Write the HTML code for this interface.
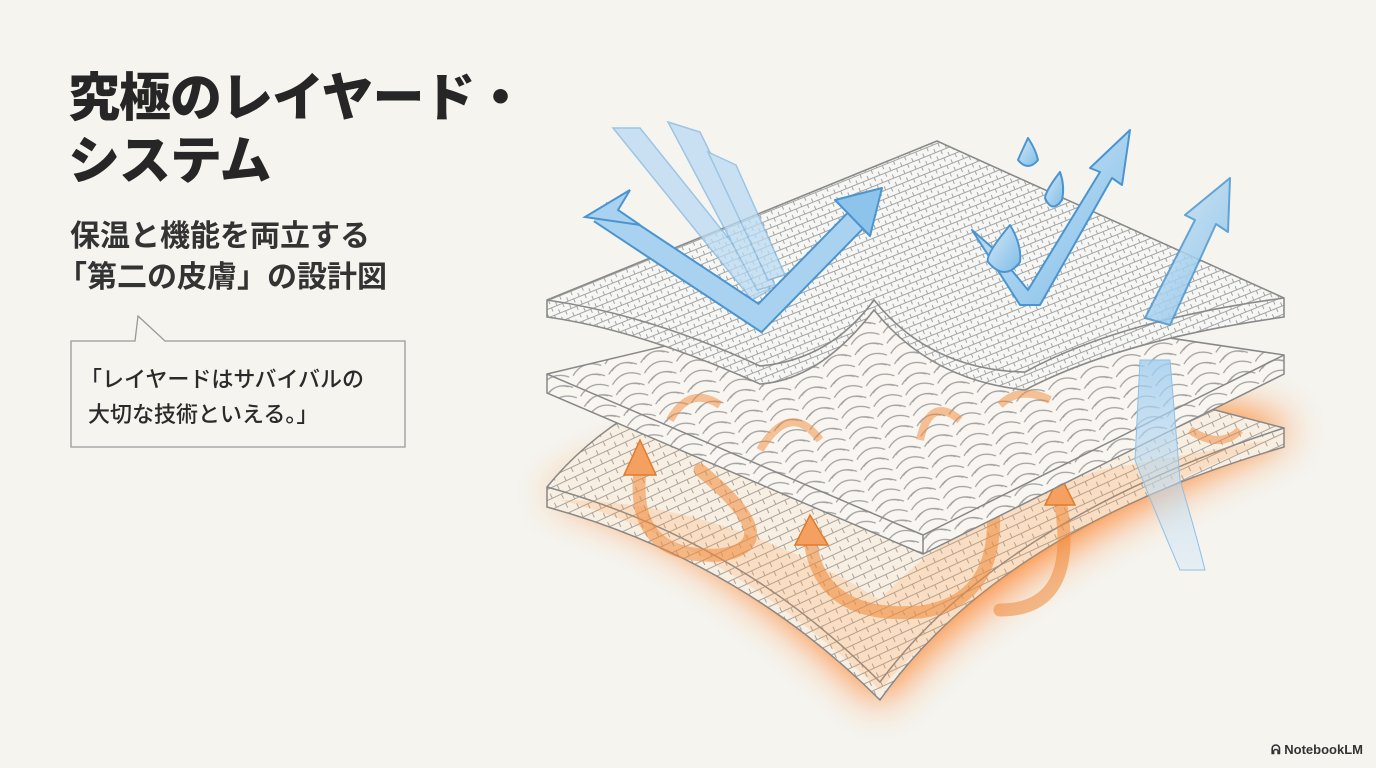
<!DOCTYPE html>
<html><head><meta charset="utf-8"><style>
html,body{margin:0;padding:0;}
body{width:1376px;height:768px;background:#f5f4ef;position:relative;overflow:hidden;font-family:"Liberation Sans","Noto Sans CJK JP",sans-serif;color:#2a2a2a;}
.t{position:absolute;left:68px;font-weight:900;font-size:52px;line-height:63px;top:68px;letter-spacing:-1px;color:#262626;}
.s{position:absolute;left:70px;top:216px;font-size:30px;line-height:41px;font-weight:700;color:#333;}
.q{position:absolute;left:80px;top:362px;font-size:22px;line-height:35px;font-weight:500;color:#2a2a2a;}
.logo{position:absolute;left:1271px;top:742px;font-size:13px;font-weight:700;color:#333;}
.nb{margin-left:-13px;}
svg{position:absolute;left:0;top:0;}
</style></head><body>
<svg width="1376" height="768" viewBox="0 0 1376 768">
<defs>
<filter id="blur" x="-30%" y="-30%" width="160%" height="160%"><feGaussianBlur stdDeviation="20"/></filter>
<pattern id="w1" width="12" height="8" patternUnits="userSpaceOnUse" patternTransform="rotate(-22)">
<rect width="12" height="8" fill="#f6f6f4"/><path d="M0 4H12M6 0V4M0 4V8M12 4V8" stroke="#a5a5a5" stroke-width="1"/></pattern>
<pattern id="w2" width="34" height="22" patternUnits="userSpaceOnUse" patternTransform="rotate(-20)">
<rect width="34" height="22" fill="#f9f6f1"/><path d="M2 10Q17 -2 32 10M2 21Q17 9 32 21M6 8Q17 0 28 8" stroke="#a0a0a0" stroke-width="1.2" fill="none"/></pattern>
<pattern id="w3" width="20" height="10" patternUnits="userSpaceOnUse" patternTransform="rotate(-25)">
<rect width="20" height="10" fill="#f8efe3"/><path d="M0 5H20M10 0V5M0 5V10M20 5V10" stroke="#aaa39c" stroke-width="1"/></pattern>
<linearGradient id="bl" x1="0" y1="0" x2="1" y2="1"><stop offset="0" stop-color="#d4e8f7"/><stop offset="1" stop-color="#7fbde8"/></linearGradient>
<linearGradient id="bv" x1="0" y1="0" x2="0" y2="1"><stop offset="0" stop-color="#9fcdf0" stop-opacity=".8"/><stop offset="1" stop-color="#cfe5f5" stop-opacity=".4"/></linearGradient>
</defs>
<path d="M71 341H135L138 316L165 341H405V447H71Z" fill="#f5f4ef" stroke="#999" stroke-width="1.3"/>
<!-- glow -->
<path d="M547 495Q700 530 880 705Q1000 560 1284 440L1284 420Q1100 380 900 340Q700 420 547 495Z" fill="#ff8026" opacity=".9" filter="url(#blur)"/>
<!-- bottom layer -->
<path d="M547 487Q650 360 900 330Q1100 380 1284 428L1284 447Q1000 530 880 700Q740 560 547 507Z" fill="url(#w3)" stroke="#888" stroke-width="1.5"/>
<path d="M547 487Q740 540 880 682Q1000 520 1284 428" fill="none" stroke="#888" stroke-width="1.5"/>
<path d="M560 500Q720 540 880 690Q1000 550 1270 440L1100 470Q950 520 880 600Q720 500 560 500Z" fill="#ff9a45" opacity=".2"/>
<g fill="none" stroke="#f08a3a" stroke-width="13" opacity=".55" stroke-linecap="round">
<path d="M640 470Q630 560 720 555Q790 545 700 470"/>
<path d="M810 540Q820 620 920 612Q1010 600 990 480"/>
<path d="M1060 500Q1080 610 1000 610"/>
</g>
<g fill="#f4a060" stroke="#e27a2a" stroke-width="1.5">
<path d="M624 475L640 440L656 475Z"/><path d="M795 545L810 515L828 545Z"/><path d="M1045 505L1060 475L1075 505Z"/>
</g>
<!-- middle layer -->
<path d="M547 374L880 295L1284 355L1284 374L923 554L547 393Z" fill="url(#w2)" stroke="#888" stroke-width="1.5"/>
<path d="M547 374L923 535L1284 355M923 535V554" fill="none" stroke="#888" stroke-width="1.5"/>
<g fill="none" stroke="#f08a3a" stroke-width="8" opacity=".5"><path d="M670 420Q690 385 720 405"/><path d="M760 450Q790 400 820 440"/><path d="M920 440Q930 395 960 420"/><path d="M1190 430Q1220 450 1240 430"/><path d="M1000 405Q1020 385 1050 400"/></g>
<path d="M1140 360L1170 360L1180 480Q1195 530 1205 570L1180 570Q1150 500 1135 460Z" fill="url(#bv)" stroke="#8fc0e6" stroke-width="1"/>
<!-- top layer -->
<path d="M547 300L937 141L1284 298L1284 317Q1120 340 1025 390Q930 380 874 310Q820 380 760 384Q640 330 547 317Z" fill="url(#w1)" stroke="#8a8a8a" stroke-width="1.6"/>
<path d="M547 300Q650 315 760 366Q830 360 874 300Q930 370 1025 372Q1120 320 1284 298" fill="none" stroke="#8a8a8a" stroke-width="1.6"/>
<!-- blue streaks -->
<g stroke="#7fb6e2" stroke-width="1.5" fill="#b9daf3" opacity=".75">
<path d="M613 128L640 128L770 290L752 300Z"/>
<path d="M668 122L700 132L775 285L757 290Z"/>
<path d="M708 152L736 165L785 275L768 280Z"/>
</g>
<!-- main left arrow -->
<path d="M600 212L760 318L858 218" fill="none" stroke="#4a95d0" stroke-width="24" stroke-linejoin="miter"/>
<path d="M600 212L760 318L858 218" fill="none" stroke="#a9d2f1" stroke-width="20" stroke-linejoin="miter"/>
<path d="M585 217L630 190L618 210L640 225Z" fill="#a9d2f1" stroke="#4a95d0" stroke-width="2"/>
<path d="M835 200L882 188L870 236Z" fill="#8ec4ec" stroke="#4a95d0" stroke-width="2" stroke-linejoin="round"/>
<g fill="url(#bl)" stroke="#4a95d0" stroke-width="2" stroke-linejoin="round">
<path d="M972 230L995 250L1028 290L1100 172L1090 168L1130 130L1122 185L1112 178L1040 305L1020 305Z"/>
<path d="M1145 318L1195 220L1185 215L1230 178L1228 232L1216 224L1170 325Z" opacity=".85"/>
<path d="M1028 138Q1020 155 1018 160Q1028 172 1038 160Q1036 150 1028 138Z"/>
<path d="M1060 172Q1046 190 1045 198Q1052 214 1062 200Q1065 186 1060 172Z"/>
<path d="M1010 225Q985 255 988 262Q1005 282 1020 262Q1022 245 1010 225Z"/>
</g>
</svg>
<div class="t">究極のレイヤード・<br>システム</div>
<div class="s">保温と機能を両立する<br><span class="nb">「第二の皮膚」の設計図</span></div>
<div class="q">「レイヤードはサバイバルの<br><span style="margin-left:8px">大切な技術といえる。」</span></div>
<div class="logo">ᕱ NotebookLM</div>
</body></html>
